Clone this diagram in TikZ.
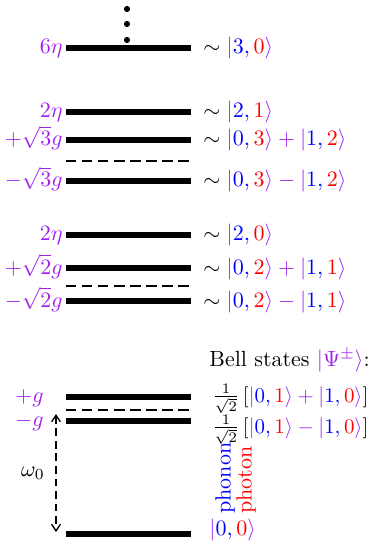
\documentclass[tikz,border=0pt]{standalone}
\usepackage{amsmath}
\usetikzlibrary{arrows.meta}
\definecolor{pu}{RGB}{160,32,240}
\definecolor{bl}{RGB}{0,0,255}
\definecolor{rd}{RGB}{255,0,0}
\newcommand{\kt}[2]{{\color{pu}|}{\color{bl}#1}\mathpunct{\color{bl},}{\color{rd}#2}{\color{pu}\rangle}}
\newcommand{\pl}{\mathbin{\color{pu}+}}
\newcommand{\mi}{\mathbin{\color{pu}-}}
\tikzset{
  lvl/.style={line width=2.4pt},
  dlvl/.style={line width=1.3pt, dash pattern=on 4.7pt off 2.6pt},
  llab/.style={anchor=base east, text=pu, inner sep=0pt},
  rlab/.style={anchor=base west, inner sep=0pt},
  dotc/.style={circle, fill=black, inner sep=0pt, minimum size=2.8pt},
}
\begin{document}
\begin{tikzpicture}[x=0.4545pt, y=-0.4545pt]
\useasboundingbox (0,0) rectangle (372,547);
% dots
\node[dotc] (d1) at (127,9) {};
\node[dotc] (d2) at (127,24) {};
\node[dotc] (d3) at (127,40) {};
% levels
\foreach \n/\y in {a/48, b/112, c/140, e/181, f/235, g/268, i/301, j/397, l/421, m/534}{
  \coordinate (\n L) at (66,\y);
  \coordinate (\n R) at (191,\y);
  \draw[lvl] (\n L) -- (\n R);
}
\foreach \n/\y in {d/161, h/286, k/410}{
  \coordinate (\n L) at (66,\y);
  \coordinate (\n R) at (190,\y);
  \draw[dlvl] (\n L) -- (\n R);
}
% left labels
\node[llab] (la) at (63,54) {$6\eta$};
\node[llab] (lb) at (63,118) {$2\eta$};
\node[llab] (lc) at (63,146) {$+\sqrt{3}g$};
\node[llab] (le) at (63,187) {$-\sqrt{3}g$};
\node[llab] (lf) at (63,241) {$2\eta$};
\node[llab] (lg) at (63,274) {$+\sqrt{2}g$};
\node[llab] (li) at (63,307) {$-\sqrt{2}g$};
\node[llab] (lj) at (44,402) {$+g$};
\node[llab] (ll) at (44,426) {$-g$};
% right labels
\node[rlab] (ra) at (203,54) {$\sim \kt{3}{0}$};
\node[rlab] (rb) at (203,118) {$\sim \kt{2}{1}$};
\node[rlab] (rc) at (203,146) {$\sim \kt{0}{3}\pl\kt{1}{2}$};
\node[rlab] (re) at (203,187) {$\sim \kt{0}{3}\mi\kt{1}{2}$};
\node[rlab] (rf) at (203,241) {$\sim \kt{2}{0}$};
\node[rlab] (rg) at (203,274) {$\sim \kt{0}{2}\pl\kt{1}{1}$};
\node[rlab] (ri) at (203,307) {$\sim \kt{0}{2}\mi\kt{1}{1}$};
\node[rlab] (bell) at (209,366) {Bell states ${\color{pu}|\Psi^{\pm}\rangle}$:};
\node[rlab, scale=0.95] (rj) at (212,402) {$\tfrac{1}{\sqrt{2}}\,[\kt{0}{1}\pl\kt{1}{0}]$};
\node[rlab, scale=0.95] (rl) at (212,433) {$\tfrac{1}{\sqrt{2}}\,[\kt{0}{1}\mi\kt{1}{0}]$};
% ground state label
\node[rlab] (rm) at (209,535) {$\kt{0}{0}$};
\node[anchor=west, rotate=90, inner sep=0pt, text=bl] (phon) at (225,514) {phonon};
\node[anchor=west, rotate=90, inner sep=0pt, text=rd] (phot) at (246,514) {photon};
% omega arrow
\coordinate (at) at (56,414);
\coordinate (ab) at (56,532);
\draw[line width=0.6pt, dash pattern=on 3.5pt off 2.2pt, {Straight Barb[length=3pt,width=4pt]}-{Straight Barb[length=3pt,width=4pt]}] (at) -- (ab);
\node (om) at (33,473) {$\omega_0$};
\end{tikzpicture}
\end{document}
